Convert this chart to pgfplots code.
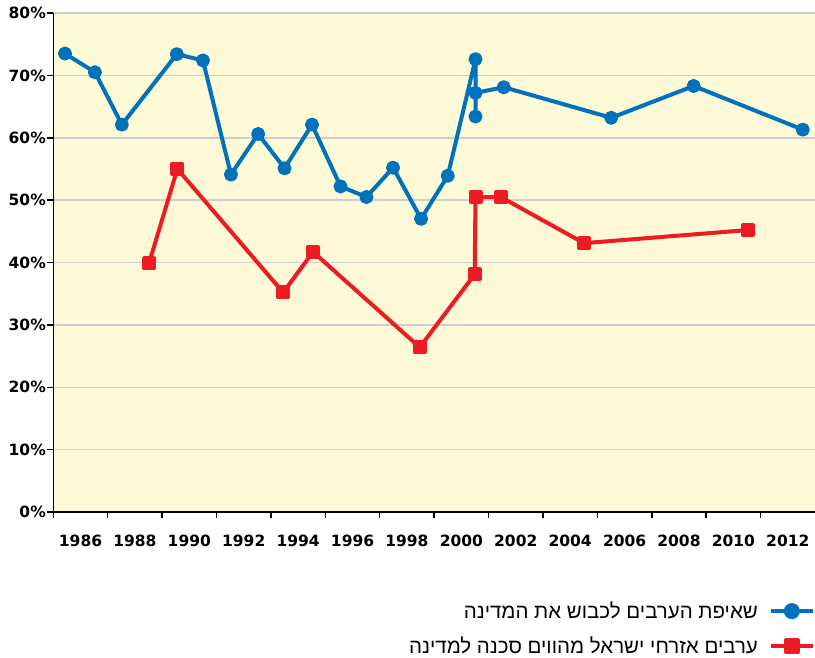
\documentclass[border=0pt]{standalone}
\usepackage{fontspec}
\usepackage{pgfplots}
\pgfplotsset{compat=1.18}
\TeXXeTstate=1
\setmainfont{DejaVu Sans}
\newfontfamily\hebfont[Script=Hebrew]{Liberation Sans}
\definecolor{serblue}{RGB}{0,114,188}
\definecolor{serred}{RGB}{237,28,36}
\definecolor{bgyellow}{RGB}{254,249,214}
\definecolor{gridgray}{RGB}{205,205,205}

\begin{document}
\begin{tikzpicture}
\begin{axis}[
  scale only axis,
  width=761.7bp, height=499bp,
  xmin=1985, xmax=2013, ymin=0, ymax=80,
  axis lines=left,
  axis line style={-, line width=1.5bp, black},
  every outer x axis line/.append style={-},
  every outer y axis line/.append style={-},
  axis background/.style={fill=bgyellow},
  clip=false,
  xtick={1986,1988,...,2012},
  xticklabels={1986,1988,1990,1992,1994,1996,1998,2000,2002,2004,2006,2008,2010,2012},
  minor xtick={1985,1987,...,2011},
  ytick={0,10,...,80},
  yticklabels={0\%,10\%,20\%,30\%,40\%,50\%,60\%,70\%,80\%},
  tick align=outside,
  major tick length=6bp, minor tick length=6bp,
  major x tick style={draw=none},
  minor x tick style={line width=1.5bp, black},
  major y tick style={line width=1.5bp, black},
  ymajorgrids,
  grid style={gridgray, line width=1.5bp},
  tick label style={font=\fontsize{15.5bp}{18bp}\selectfont\bfseries},
  xticklabel style={yshift=-13bp},
  yticklabel style={xshift=2bp},
  legend style={at={(1.004,-0.172)}, anchor=north east, draw=none, fill=none,
    font=\hebfont\fontsize{20.5bp}{24bp}\selectfont, row sep=13bp},
  legend plot pos=right,
  legend cell align=right,
  legend image code/.code={
    \path (0bp,0bp);
    \draw[mark repeat=2, mark phase=2, #1, mark size=6bp]
      plot coordinates {(9bp,0bp) (30bp,0bp) (51bp,0bp)};
  },
]
%% blue series
\addplot[serblue, line width=4bp, line join=round, mark=*, mark size=5bp] coordinates {
  (1985.43,73.5) (1986.53,70.5) (1987.52,62.1) (1989.54,73.4) (1990.50,72.4)
  (1991.53,54.1) (1992.53,60.6) (1993.50,55.1) (1994.51,62.1) (1995.56,52.2)
  (1996.51,50.5) (1997.49,55.2) (1998.52,47.0) (1999.50,53.9)
  (2000.52,72.6) (2000.52,63.4) (2000.52,67.2) (2001.56,68.1)
  (2005.51,63.2) (2008.54,68.3) (2012.55,61.3)
};
\addlegendentry{\beginR שאיפת הערבים לכבוש את המדינה\endR}
%% red series
\addplot[serred, line width=4bp, line join=round, mark=square*, mark size=5bp] coordinates {
  (1988.52,39.9) (1989.56,55.0) (1993.45,35.2) (1994.55,41.7) (1998.47,26.4)
  (2000.49,38.1) (2000.52,50.5) (2001.45,50.5) (2004.51,43.1) (2010.53,45.2)
};
\addlegendentry{\beginR ערבים אזרחי ישראל מהווים סכנה למדינה\endR}
\coordinate (sw) at (rel axis cs:0,0);
\coordinate (ne) at (rel axis cs:1,1);
\end{axis}
\pgfresetboundingbox
\path ([shift={(-53.3bp,-146bp)}]sw) rectangle ([shift={(0bp,13bp)}]ne);
\end{tikzpicture}
\end{document}
